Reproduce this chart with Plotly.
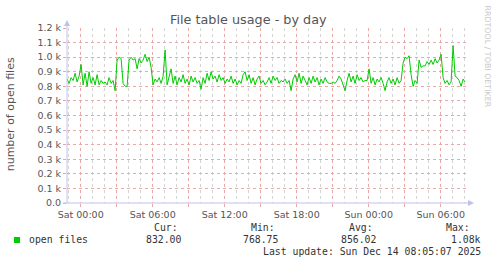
import plotly.graph_objects as go
import pandas as pd

# ---- data ----
START = "2025-12-12 22:52"          # first sample, 10-minute steps
STEP = "10min"
open_files = [
    850, 820, 860, 840, 890, 830, 870, 950, 810, 890, 800, 900, 820, 860, 810, 880, 810, 840, 820, 830, 810, 860, 820, 840, 770,
    980, 1000, 990, 820, 800, 800, 980, 1000, 980, 990, 920, 990, 960, 980, 1020, 970, 1000, 930,
    810, 850, 830, 860, 820, 870, 1050, 810, 860, 920, 820, 870, 810, 860, 830, 880, 820, 850, 810, 870, 830, 860, 820, 840, 780,
    860, 820, 890, 840, 900, 850, 870, 830, 880, 840, 860, 820, 850,
    830, 870, 820, 850, 810, 840, 820, 880, 900, 840, 880, 820, 860, 810, 850, 870, 820, 840, 810, 830,
    860, 820, 870, 840, 860, 820, 840, 830, 850, 820, 840, 770, 850, 880, 830, 890, 820, 870, 840, 810,
    860, 820, 870, 830, 860, 810, 850, 820, 860, 830, 820, 820, 830, 820, 840, 870, 850, 810, 770, 840,
    890, 830, 870, 820, 880, 840, 860, 830, 840, 840, 920, 820, 860, 810, 850, 830, 860, 820, 770,
    830, 860, 820, 850, 810, 860, 820, 840, 960, 1000, 990, 1010, 880, 800, 840, 820, 980, 930, 940, 940,
    970, 950, 980, 950, 990, 960, 980, 1020, 860, 820, 840, 810, 830, 1080, 870, 860, 840, 800, 850, 830,
]

x_tick_times = ["2025-12-13 00:00", "2025-12-13 03:00", "2025-12-13 06:00", "2025-12-13 09:00",
                "2025-12-13 12:00", "2025-12-13 15:00", "2025-12-13 18:00", "2025-12-13 21:00",
                "2025-12-14 00:00", "2025-12-14 03:00", "2025-12-14 06:00"]
x_tick_labels = ["Sat 00:00", "", "Sat 06:00", "", "Sat 12:00", "", "Sat 18:00", "",
                 "Sun 00:00", "", "Sun 06:00"]
y_tick_vals = [0, 100, 200, 300, 400, 500, 600, 700, 800, 900, 1000, 1100, 1200]
y_tick_labels = ["0.0", "0.1 k", "0.2 k", "0.3 k", "0.4 k", "0.5 k", "0.6 k",
                 "0.7 k", "0.8 k", "0.9 k", "1.0 k", "1.1 k", "1.2 k"]
X_RANGE = ["2025-12-12 22:51:30", "2025-12-14 08:16:30"]

stat_headers = ["Cur:", "Min:", "Avg:", "Max:"]
stat_values = ["832.00", "768.75", "856.02", "1.08k"]
series_name = "open files"
title_text = "File table usage - by day"
y_title = "number of open files"
last_update = "Last update: Sun Dec 14 08:05:07 2025"
watermark = "RRDTOOL / TOBI OETIKER"

# ---- layout helpers (pixel -> paper) ----
W, H = 497, 264
L, R, T, B = 67, 29, 28, 61
PW, PH = W - L - R, H - T - B


def px(x):
    return (x - L) / PW


def py(y):
    return (H - B - y) / PH


times = pd.date_range(START, periods=len(open_files), freq=STEP)

RED = "#e8a8a8"
GREY = "#d4d4d4"
AXIS = "#c0c0f0"
TXT = "#555555"

fig = go.Figure(go.Scatter(x=times, y=open_files, mode="lines",
                           line=dict(color="#00cc00", width=1), hoverinfo="skip"))

fig.update_layout(
    width=W, height=H, margin=dict(l=L, r=R, t=T, b=B),
    paper_bgcolor="white", plot_bgcolor="white", showlegend=False,
    xaxis=dict(type="date", range=X_RANGE, tickmode="array",
               tickvals=x_tick_times, ticktext=x_tick_labels,
               showgrid=True, gridcolor=RED, griddash="dot", gridwidth=1,
               ticks="outside", ticklen=3, tickcolor=RED,
               tickfont=dict(family="DejaVu Sans", size=9.5, color=TXT),
               showline=False, zeroline=False,
               minor=dict(dtick=3600000, tick0="2025-12-13 00:00", showgrid=True,
                          gridcolor=GREY, griddash="dot", gridwidth=1, ticks="")),
    yaxis=dict(range=[0, 1200], tickmode="array", tickvals=y_tick_vals,
               ticktext=y_tick_labels, showgrid=True, gridcolor=RED,
               griddash="dot", gridwidth=1, ticks="outside", ticklen=3,
               tickcolor=RED, tickfont=dict(family="DejaVu Sans", size=9.5, color=TXT),
               showline=False, zeroline=False),
)

shapes = [
    # y axis line and arrow
    dict(type="line", xref="paper", yref="paper", x0=px(67), x1=px(67), y0=py(203), y1=py(23),
         line=dict(color=AXIS, width=1)),
    dict(type="path", xref="paper", yref="paper",
         path=f"M {px(64)},{py(26)} L {px(70)},{py(26)} L {px(67)},{py(20)} Z",
         fillcolor=AXIS, line=dict(color=AXIS, width=0)),
    # x axis line and arrow
    dict(type="line", xref="paper", yref="paper", x0=px(63), x1=px(470), y0=py(203), y1=py(203),
         line=dict(color=AXIS, width=1)),
    dict(type="path", xref="paper", yref="paper",
         path=f"M {px(468)},{py(200)} L {px(468)},{py(206)} L {px(474)},{py(203)} Z",
         fillcolor=AXIS, line=dict(color=AXIS, width=0)),
    # legend swatch
    dict(type="rect", xref="paper", yref="paper", x0=px(14), x1=px(20), y0=py(243), y1=py(237),
         fillcolor="#00cc00", line=dict(width=0)),
]
fig.update_layout(shapes=shapes)

mono = dict(family="DejaVu Sans Mono", size=9.8, color="#333333")
ann = []
ann.append(dict(text=title_text, x=px(248.3), y=py(19), xanchor="center", yanchor="middle",
                font=dict(family="DejaVu Sans", size=12.8, color=TXT)))
ann.append(dict(text=y_title, x=px(10.8), y=py(114.5), xanchor="center", yanchor="middle",
                textangle=-90, font=dict(family="DejaVu Sans", size=11, color=TXT)))
ann.append(dict(text=watermark, x=px(487.5), y=py(56), xanchor="center", yanchor="middle",
                textangle=90, font=dict(family="DejaVu Sans", size=7.9, color="#c8c8c8")))
ann.append(dict(text=series_name, x=px(26.5), y=py(239.5), xanchor="left", yanchor="middle", font=mono))
head_cx = [165.5, 263.3, 361.0, 458.3]
val_right = [183.3, 279.5, 378.3, 482.7]
for h, v, hx, vr in zip(stat_headers, stat_values, head_cx, val_right):
    ann.append(dict(text=h, x=px(hx), y=py(227.7), xanchor="center", yanchor="middle", font=mono))
    ann.append(dict(text=v, x=px(vr), y=py(239.5), xanchor="right", yanchor="middle", font=mono))
ann.append(dict(text=last_update, x=px(482.7), y=py(251.3), xanchor="right", yanchor="middle", font=mono))
for a in ann:
    a.update(xref="paper", yref="paper", showarrow=False)
fig.update_layout(annotations=ann)

fig.write_html("out.html")
